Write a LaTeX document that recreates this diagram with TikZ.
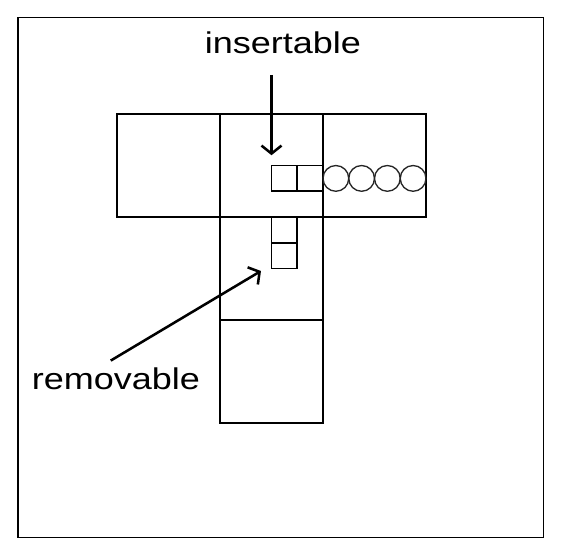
\documentclass[tikz,border=0pt]{standalone}
\usepackage{fontspec}
\newfontfamily\labelfont[FakeStretch=1.2]{Liberation Sans}
\usetikzlibrary{arrows.meta}
\tikzset{
    cell/.style={rectangle, draw=black, line width=1.15pt, minimum size=77.25pt, inner sep=0pt},
    slot/.style={rectangle, draw=black, line width=1.15pt, minimum size=19.31pt, inner sep=0pt},
    ball/.style={circle, draw=black!85, line width=1pt, minimum size=19.31pt, inner sep=0pt},
    myarrow/.style={-{Straight Barb[length=6pt,width=15pt]}, line width=1.9pt},
    mylabel/.style={font=\labelfont\fontsize{22.5}{27}\selectfont, anchor=base, inner sep=0pt}
}
\begin{document}
\begin{tikzpicture}[x=77.25pt,y=77.25pt]
    \useasboundingbox (-1.636,-3.811) rectangle (3.840,1.607);
    \draw[line width=1.1pt] (-1.461,-3.612) rectangle (3.641,1.437);
    % the T of cells
    \draw (0,0) node[cell] (left) {};
    \draw (1,0) node[cell] (middle) {};
    \draw (2,0) node[cell] (right) {};
    \draw (1,-1) node[cell] (stem) {};
    \draw (1,-2) node[cell] (foot) {};
    % small slots
    \draw (1.125,-0.125) node[slot] (slot a) {};
    \draw (1.375,-0.125) node[slot] (slot b) {};
    \draw (1.125,-0.625) node[slot] (slot c) {};
    \draw (1.125,-0.875) node[slot] (slot d) {};
    % queue of balls
    \draw (1.625,-0.125) node[ball] (ball 1) {};
    \draw (1.875,-0.125) node[ball] (ball 2) {};
    \draw (2.125,-0.125) node[ball] (ball 3) {};
    \draw (2.375,-0.125) node[ball] (ball 4) {};
    % labels and arrows
    \draw (1.11,1.09) node[mylabel] (insertable) {insertable};
    \coordinate (ins from) at (1,0.88);
    \coordinate (ins to) at (1,0.10);
    \draw[myarrow] (ins from) -- (ins to);
    \draw (-0.51,-2.173) node[mylabel] (removable) {removable};
    \coordinate (rem from) at (-0.561,-1.894);
    \coordinate (rem to) at (0.898,-1.024);
    \draw[myarrow] (rem from) -- (rem to);
\end{tikzpicture}
\end{document}
